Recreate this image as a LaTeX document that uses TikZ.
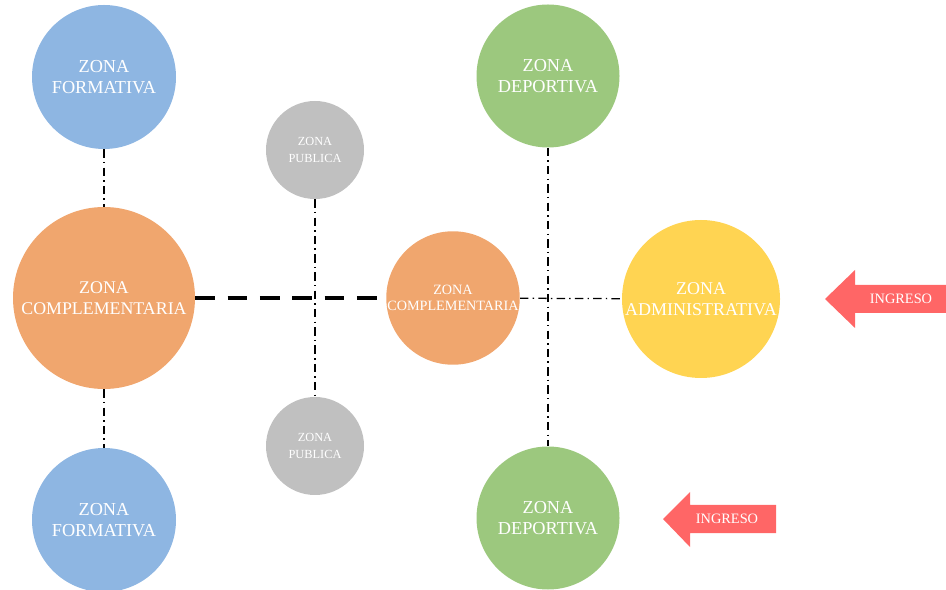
\documentclass[tikz,border=0pt]{standalone}
\usepackage{fontspec}
\setmainfont{Liberation Serif}
\usepackage{tikz}
\usetikzlibrary{arrows.meta,positioning,calc}
\definecolor{zonaBlue}{RGB}{142,182,226}
\definecolor{zonaOrange}{RGB}{240,166,110}
\definecolor{zonaGray}{RGB}{192,192,192}
\definecolor{zonaGreen}{RGB}{156,200,126}
\definecolor{zonaYellow}{RGB}{255,212,82}
\definecolor{ingresoRed}{RGB}{255,102,102}

\begin{document}
\begin{tikzpicture}[
  zona/.style={circle,inner sep=0pt,text=white,align=center,font=\fontsize{13}{15.5}\selectfont},
  dashdot/.style={line width=0.9pt,dash pattern=on 6pt off 3pt on 1pt off 3pt},
  bigdash/.style={line width=2.8pt,dash pattern=on 14pt off 9pt}]
  \useasboundingbox (0,0) rectangle (23.65,14.725);
  % zones
  \node[zona,fill=zonaBlue,minimum size=3.6cm] (formA) at (2.6,12.8) {ZONA\\FORMATIVA};
  \node[zona,fill=zonaOrange,minimum size=4.55cm,font=\fontsize{12.7}{14.5}\selectfont] (compA) at (2.6,7.275) {ZONA\\COMPLEMENTARIA};
  \node[zona,fill=zonaBlue,minimum size=3.6cm] (formB) at (2.6,1.725) {ZONA\\FORMATIVA};
  \node[zona,fill=zonaGray,minimum size=2.45cm,font=\fontsize{8.8}{12}\selectfont] (pubA) at (7.875,10.975) {ZONA\\PUBLICA};
  \node[zona,fill=zonaGray,minimum size=2.45cm,font=\fontsize{8.8}{12}\selectfont] (pubB) at (7.875,3.575) {ZONA\\PUBLICA};
  \node[zona,fill=zonaOrange,minimum size=3.3cm,font=\fontsize{10.1}{11.5}\selectfont] (compB) at (11.325,7.275) {ZONA\\COMPLEMENTARIA};
  \node[zona,fill=zonaGreen,minimum size=3.575cm] (depA) at (13.7,12.825) {ZONA\\DEPORTIVA};
  \node[zona,fill=zonaGreen,minimum size=3.575cm] (depB) at (13.7,1.775) {ZONA\\DEPORTIVA};
  \node[zona,fill=zonaYellow,minimum size=3.95cm,font=\fontsize{12.8}{15}\selectfont] (admin) at (17.525,7.25) {ZONA\\ADMINISTRATIVA};
  % links
  \draw[dashdot] (formA)--(compA);
  \draw[dashdot] (compA)--(formB);
  \draw[dashdot] (pubA)--(pubB);
  \draw[bigdash] (compA)--(compB);
  \draw[dashdot] (compB)--(admin);
  \draw[dashdot] (depA)--(depB);
  % ingreso arrows
  \fill[ingresoRed] (20.625,7.25)--(21.375,7.975)--(21.375,7.6)--(23.65,7.6)
    --(23.65,6.9)--(21.375,6.9)--(21.375,6.525)--cycle;
  \node[text=white,font=\fontsize{10.2}{11}\selectfont] (ingA) at (22.525,7.25) {INGRESO};
  \fill[ingresoRed] (16.575,1.75)--(17.25,2.425)--(17.25,2.1)--(19.4,2.1)
    --(19.4,1.4)--(17.25,1.4)--(17.25,1.05)--cycle;
  \node[text=white,font=\fontsize{10.2}{11}\selectfont] (ingB) at (18.175,1.75) {INGRESO};
\end{tikzpicture}
\end{document}
